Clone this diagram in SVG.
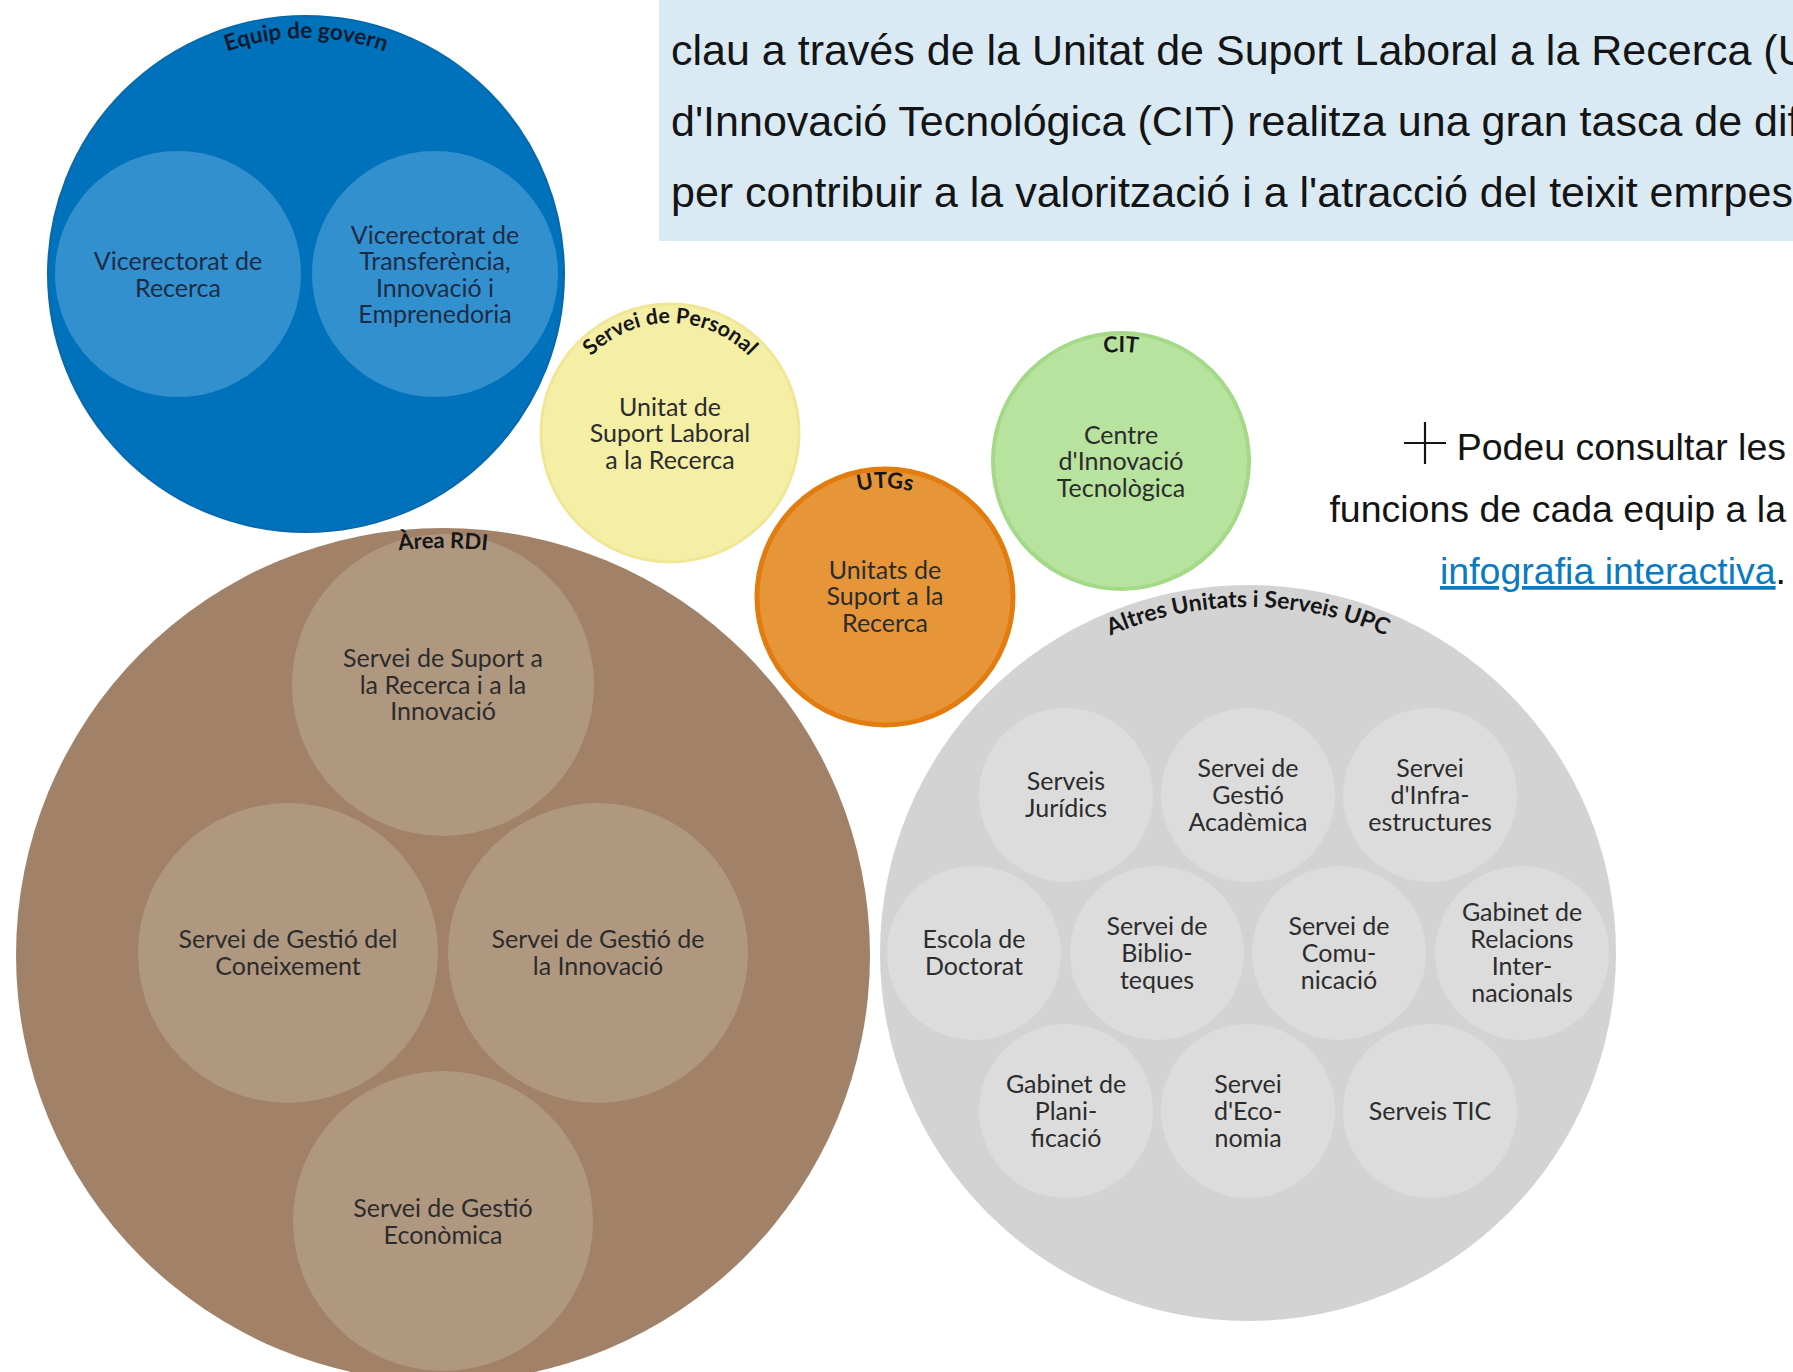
<svg xmlns="http://www.w3.org/2000/svg" xmlns:xlink="http://www.w3.org/1999/xlink" width="1793" height="1372" viewBox="0 0 1793 1372">
<style>
.t{font-family:Lato,"Open Sans","Liberation Sans",sans-serif;font-size:25px;text-anchor:middle;fill:#2c2c2c}
.tb{fill:#1c2c45}
.lab{font-family:Lato,"Open Sans","Liberation Sans",sans-serif;font-size:22px;font-weight:bold;fill:#161616}
.body{font-family:"Liberation Sans",Arial,sans-serif;font-size:43px;fill:#141414}
.side{font-family:"Liberation Sans",Arial,sans-serif;font-size:37.5px;fill:#141414;text-anchor:end}
.ig{fill:#dcdcdc}
.ib{fill:#af987f}
</style>
<defs>
<path id="pEquip" d="M 70 274 A 236 236 0 0 1 542 274"/>
<path id="pPers" d="M 560 433 A 110 110 0 0 1 780 433"/>
<path id="pCIT" d="M 1012 461 A 109 109 0 0 1 1230 461"/>
<path id="pUTG" d="M 776 597 A 109 109 0 0 1 994 597"/>
<path id="pRDI" d="M 36 955 A 407 407 0 0 1 850 955"/>
<path id="pAltres" d="M 902 953 A 346 346 0 0 1 1594 953"/>
</defs>
<rect width="1793" height="1372" fill="#ffffff"/>

<g id="intro-text">
<rect x="659" y="0" width="1134" height="241" fill="#d9eaf5"/>
<text class="body" x="671" y="65">clau a través de la Unitat de Suport Laboral a la Recerca (U</text>
<text class="body" x="671" y="136">d'Innovació Tecnológica (CIT) realitza una gran tasca de dif</text>
<text class="body" x="671" y="207">per contribuir a la valorització i a l'atracció del teixit emrpes</text>
</g>

<g id="equip-govern">
<circle cx="306" cy="274" r="258" fill="#0072bb" stroke="#0669ad" stroke-width="2"/>
<g id="vr-recerca">
<circle cx="178" cy="274" r="123" fill="#3390cf"/>
<text class="t tb" x="178" y="270">Vicerectorat de</text>
<text class="t tb" x="178" y="297">Recerca</text>
</g>
<g id="vr-transferencia">
<circle cx="435" cy="274" r="123" fill="#3390cf"/>
<text class="t tb" x="435" y="244">Vicerectorat de</text>
<text class="t tb" x="435" y="270">Transferència,</text>
<text class="t tb" x="435" y="297">Innovació i</text>
<text class="t tb" x="435" y="323">Emprenedoria</text>
</g>
<text class="lab" style="font-size:22.5px;fill:#0c1a30"><textPath xlink:href="#pEquip" href="#pEquip" startOffset="50%" text-anchor="middle">Equip de govern</textPath></text>
</g>

<g id="area-rdi">
<circle cx="443" cy="955" r="427" fill="#a18268"/>
<g id="ssri">
<circle class="ib" cx="443" cy="685" r="151"/>
<text class="t" x="443" y="667">Servei de Suport a</text>
<text class="t" x="443" y="694">la Recerca i a la</text>
<text class="t" x="443" y="720">Innovació</text>
</g>
<g id="sgc">
<circle class="ib" cx="288" cy="953" r="150"/>
<text class="t" x="288" y="948">Servei de Gestió del</text>
<text class="t" x="288" y="975">Coneixement</text>
</g>
<g id="sgi">
<circle class="ib" cx="598" cy="953" r="150"/>
<text class="t" x="598" y="948">Servei de Gestió de</text>
<text class="t" x="598" y="975">la Innovació</text>
</g>
<g id="sge">
<circle class="ib" cx="443" cy="1221" r="150"/>
<text class="t" x="443" y="1217">Servei de Gestió</text>
<text class="t" x="443" y="1244">Econòmica</text>
</g>
<text class="lab"><textPath xlink:href="#pRDI" href="#pRDI" startOffset="50%" text-anchor="middle">Àrea RDI</textPath></text>
</g>

<g id="servei-personal">
<circle cx="670" cy="433" r="129" fill="#f5eea5" stroke="#f0e796" stroke-width="3"/>
<text class="lab" style="font-size:21.5px"><textPath xlink:href="#pPers" href="#pPers" startOffset="50%" text-anchor="middle">Servei de Personal</textPath></text>
<text class="t" x="670" y="416">Unitat de</text>
<text class="t" x="670" y="442">Suport Laboral</text>
<text class="t" x="670" y="469">a la Recerca</text>
</g>

<g id="cit">
<circle cx="1121" cy="461" r="128" fill="#b7e39e" stroke="#a3d987" stroke-width="4"/>
<text class="lab"><textPath xlink:href="#pCIT" href="#pCIT" startOffset="50%" text-anchor="middle">CIT</textPath></text>
<text class="t" x="1121" y="444">Centre</text>
<text class="t" x="1121" y="470">d'Innovació</text>
<text class="t" x="1121" y="497">Tecnològica</text>
</g>

<g id="utgs">
<circle cx="885" cy="597" r="128" fill="#e69638" stroke="#e27c0e" stroke-width="5"/>
<text class="lab"><textPath xlink:href="#pUTG" href="#pUTG" startOffset="50%" text-anchor="middle">UTGs</textPath></text>
<text class="t" x="885" y="579">Unitats de</text>
<text class="t" x="885" y="605">Suport a la</text>
<text class="t" x="885" y="632">Recerca</text>
</g>

<g id="altres-upc">
<circle cx="1248" cy="953" r="368" fill="#d3d3d3"/>
<text class="lab" style="font-size:23px"><textPath xlink:href="#pAltres" href="#pAltres" startOffset="50%" text-anchor="middle">Altres Unitats i Serveis UPC</textPath></text>
<g id="juridics"><circle class="ig" cx="1066" cy="795" r="87"/>
<text class="t" x="1066" y="790">Serveis</text><text class="t" x="1066" y="817">Jurídics</text></g>
<g id="academica"><circle class="ig" cx="1248" cy="795" r="87"/>
<text class="t" x="1248" y="776.5">Servei de</text><text class="t" x="1248" y="803.5">Gestió</text><text class="t" x="1248" y="830.5">Acadèmica</text></g>
<g id="infraestructures"><circle class="ig" cx="1430" cy="795" r="87"/>
<text class="t" x="1430" y="776.5">Servei</text><text class="t" x="1430" y="803.5">d'Infra-</text><text class="t" x="1430" y="830.5">estructures</text></g>
<g id="doctorat"><circle class="ig" cx="974" cy="953" r="87"/>
<text class="t" x="974" y="948">Escola de</text><text class="t" x="974" y="975">Doctorat</text></g>
<g id="biblioteques"><circle class="ig" cx="1157" cy="953" r="87"/>
<text class="t" x="1157" y="934.5">Servei de</text><text class="t" x="1157" y="961.5">Biblio-</text><text class="t" x="1157" y="988.5">teques</text></g>
<g id="comunicacio"><circle class="ig" cx="1339" cy="953" r="87"/>
<text class="t" x="1339" y="934.5">Servei de</text><text class="t" x="1339" y="961.5">Comu-</text><text class="t" x="1339" y="988.5">nicació</text></g>
<g id="relacions"><circle class="ig" cx="1522" cy="953" r="87"/>
<text class="t" x="1522" y="921">Gabinet de</text><text class="t" x="1522" y="948">Relacions</text><text class="t" x="1522" y="975">Inter-</text><text class="t" x="1522" y="1002">nacionals</text></g>
<g id="planificacio"><circle class="ig" cx="1066" cy="1111" r="87"/>
<text class="t" x="1066" y="1092.5">Gabinet de</text><text class="t" x="1066" y="1119.5">Plani-</text><text class="t" x="1066" y="1146.5">ficació</text></g>
<g id="economia"><circle class="ig" cx="1248" cy="1111" r="87"/>
<text class="t" x="1248" y="1092.5">Servei</text><text class="t" x="1248" y="1119.5">d'Eco-</text><text class="t" x="1248" y="1146.5">nomia</text></g>
<g id="tic"><circle class="ig" cx="1430" cy="1111" r="87"/>
<text class="t" x="1430" y="1119.5">Serveis TIC</text></g>
</g>

<g id="side-note">
<path d="M1404 443 H1446 M1425 422 V464" stroke="#141414" stroke-width="2.2" fill="none"/>
<text class="side" x="1786" y="460">Podeu consultar les</text>
<text class="side" x="1786" y="522">funcions de cada equip a la</text>
<text class="side" x="1786" y="584"><tspan fill="#0b7bc1" text-decoration="underline">infografia interactiva</tspan>.</text>
</g>

<g id="connectors"/>
</svg>
